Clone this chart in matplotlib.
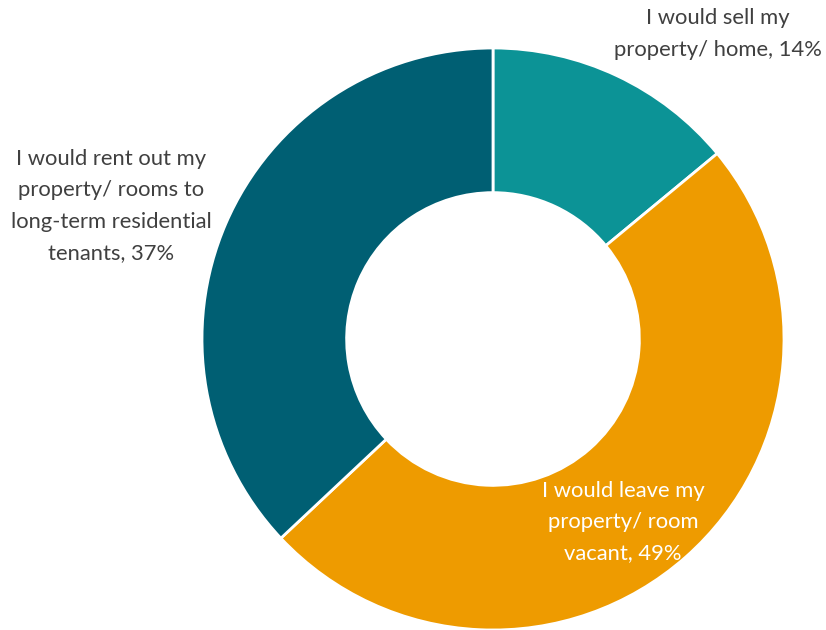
import matplotlib
matplotlib.use("Agg")
import matplotlib.pyplot as plt

categories = ["I would sell my\nproperty/ home, 14%",
              "I would leave my\nproperty/ room\nvacant, 49%",
              "I would rent out my\nproperty/ rooms to\nlong-term residential\ntenants, 37%"]
values = [14, 49, 37]
colors = ["#0C9396", "#EE9B00", "#005F73"]

W, H = 826, 630
fig = plt.figure(figsize=(W / 100, H / 100), dpi=100)
cx, cy, R = 493, 339, 291
ax = fig.add_axes([(cx - R) / W, (H - cy - R) / H, 2 * R / W, 2 * R / H])
ax.pie(values, colors=colors, startangle=90, counterclock=False,
       wedgeprops=dict(width=0.497, edgecolor="white", linewidth=2))
ax.set_xlim(-1, 1)
ax.set_ylim(-1, 1)
ax.set_aspect("equal")
ax.axis("off")

def px(x, y):
    return (x - cx) / R, (cy - y) / R

font = dict(family=["Lato", "DejaVu Sans"], fontweight="normal", fontsize=15.8,
            ha="center", va="center", linespacing=1.7)
ax.text(*px(718, 34), categories[0], color="#404040", clip_on=False, **font)
ax.text(*px(623, 522), categories[1], color="white", clip_on=False, **font)
ax.text(*px(111, 206), categories[2], color="#404040", clip_on=False, **font)

fig.savefig("out.png", dpi=100)
